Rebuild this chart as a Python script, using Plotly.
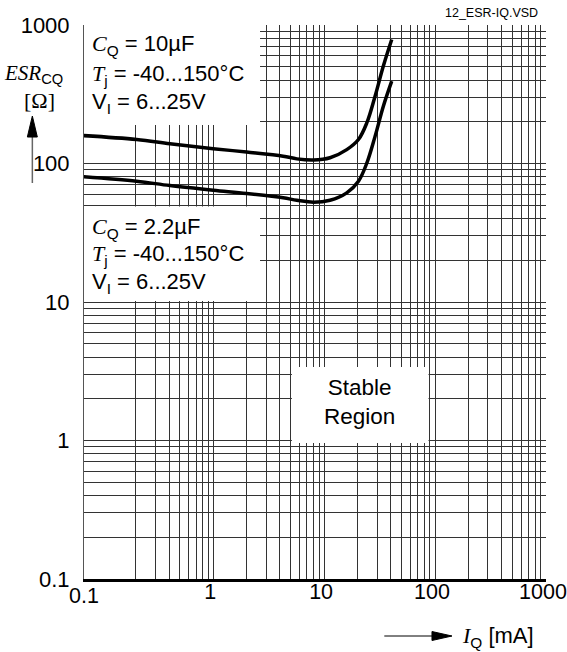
import plotly.graph_objects as go

# ---- data ----
iq_ma = [0.068, 0.204, 0.407, 1.0, 2.0, 4.27, 5.68, 8.01, 11.3, 16.0, 20.4, 24.3, 28.8, 34.2, 40.7]
esr_cq_10uf = [159, 149, 139, 128, 121, 113, 108, 106, 110, 126, 149, 197, 306, 505, 785]
esr_cq_2u2f = [80.2, 74.5, 69.3, 64.1, 60.7, 56.5, 54.3, 52.6, 54.3, 61.4, 74.5, 101, 157, 259, 393]

x_tick_vals = [1, 10, 100, 1000]
x_tick_text = ["1", "10", "100", "1000"]
y_tick_vals = [0.1, 1, 10, 100, 1000]
y_tick_text = ["0.1", "1", "10", "100", "1000"]
decades = [0.1, 1, 10, 100]
minor_vals = [k * d for d in decades for k in range(2, 10)]

SANS = "Liberation Sans, Arial, sans-serif"
SERIF = "Liberation Serif"
GRID = "#333333"
FS = 22

fig = go.Figure()
for ys in (esr_cq_10uf, esr_cq_2u2f):
    fig.add_trace(go.Scatter(x=iq_ma, y=ys, mode="lines",
                             line=dict(color="black", width=3.5, shape="spline", smoothing=1),
                             hoverinfo="skip"))

fig.update_layout(
    width=567, height=652,
    margin=dict(l=84, r=21, t=25, b=73, autoexpand=False),
    plot_bgcolor="white", paper_bgcolor="white",
    showlegend=False,
    font=dict(family=SANS, size=FS, color="black"),
)

fig.update_xaxes(
    type="log", range=[-1.165, 3.0005], automargin=False,
    tickmode="array", tickvals=x_tick_vals, ticktext=x_tick_text,
    showgrid=True, gridcolor=GRID, gridwidth=1,
    minor=dict(tickmode="array", tickvals=minor_vals, showgrid=True,
               gridcolor=GRID, gridwidth=1, ticks=""),
    showline=True, linecolor="black", linewidth=3,
    ticks="", zeroline=False, ticklabelstandoff=-9, ticklabelshift=-3,
    ticklabeloverflow="allow",
    tickfont=dict(family=SANS, size=21.5, color="black"),
)
fig.update_yaxes(
    type="log", range=[-1, 3], automargin=False,
    tickmode="array", tickvals=y_tick_vals, ticktext=y_tick_text,
    showgrid=True, gridcolor=GRID, gridwidth=1,
    minor=dict(tickmode="array", tickvals=minor_vals, showgrid=True,
               gridcolor=GRID, gridwidth=1, ticks=""),
    showline=True, linecolor="#555555", linewidth=1,
    ticks="", zeroline=False, ticklabelstandoff=9, ticklabeloverflow="allow",
    tickfont=dict(family=SANS, size=FS, color="black"),
)

# white label boxes masking the grid (the curves never enter them)
white_boxes = [
    (0.0, 0.8195, 0.381, 1.0),
    (0.0, 0.5018, 0.381, 0.6724),
    (0.450, 0.2455, 0.7457, 0.3827),
]
for x0, y0, x1, y1 in white_boxes:
    fig.add_shape(type="rect", xref="x domain", yref="y domain", x0=x0, y0=y0, x1=x1, y1=y1,
                  fillcolor="white", line=dict(width=0), layer="above")

# axis arrows
fig.add_shape(type="line", xref="paper", yref="paper", x0=-0.1118, y0=0.7148, x1=-0.1118, y1=0.80,
              line=dict(color="#666666", width=1.5))
fig.add_shape(type="path", xref="paper", yref="paper",
              path="M -0.1118,0.8357 L -0.1226,0.7978 L -0.1010,0.7978 Z",
              fillcolor="black", line=dict(color="black", width=1))
fig.add_shape(type="line", xref="paper", yref="paper", x0=0.650, y0=-0.1029, x1=0.755, y1=-0.1029,
              line=dict(color="black", width=1))
fig.add_shape(type="path", xref="paper", yref="paper",
              path="M 0.7965,-0.1029 L 0.7532,-0.0948 L 0.7532,-0.1110 Z",
              fillcolor="black", line=dict(color="black", width=1))

def it(s):
    return f"<span style=\"font-family:'{SERIF}'\"><i>{s}</i></span>"

box_lines = [
    (0.9639, it("C") + "<sub>Q</sub> = 10µF"),
    (0.9097, it("T") + "<sub>j</sub> = -40...150°C"),
    (0.8592, "V<sub>I</sub> = 6...25V"),
    (0.6341, it("C") + "<sub>Q</sub> = 2.2µF"),
    (0.5848, it("T") + "<sub>j</sub> = -40...150°C"),
    (0.5348, "V<sub>I</sub> = 6...25V"),
]
for yy, txt in box_lines:
    fig.add_annotation(xref="paper", yref="paper", x=0.013, y=yy, text=txt, showarrow=False,
                       xanchor="left", yanchor="middle", font=dict(family=SANS, size=FS, color="black"))

fig.add_annotation(xref="paper", yref="paper", x=0.5974, y=0.3195, text="Stable<br>Region",
                   showarrow=False, xanchor="center", yanchor="middle",
                   font=dict(family=SANS, size=22.5, color="black"))

# axis titles
fig.add_annotation(xref="paper", yref="paper", x=-0.1775, y=0.9115,
                   text=it("ESR") + "<sub>CQ</sub>", showarrow=False,
                   xanchor="left", yanchor="middle", font=dict(family=SANS, size=21, color="black"))
fig.add_annotation(xref="paper", yref="paper", x=-0.0974, y=0.8646,
                   text=f"<span style=\"font-family:'{SERIF}'\">[Ω]</span>", showarrow=False,
                   xanchor="center", yanchor="middle", font=dict(family=SERIF, size=22, color="black"))
fig.add_annotation(xref="paper", yref="paper", x=0.814, y=-0.1047,
                   text=it("I") + "<sub>Q</sub> [mA]", showarrow=False,
                   xanchor="left", yanchor="middle", font=dict(family=SANS, size=FS, color="black"))
fig.add_annotation(xref="paper", yref="paper", x=-0.001, y=-0.0307, text="0.1", showarrow=False,
                   xanchor="center", yanchor="middle", font=dict(family=SANS, size=21.5, color="black"))
fig.add_annotation(xref="paper", yref="paper", x=0.987, y=1.0217, text="12_ESR-IQ.VSD", showarrow=False,
                   xanchor="right", yanchor="middle", font=dict(family=SANS, size=12.5, color="black"))

fig.write_html("out.html")
